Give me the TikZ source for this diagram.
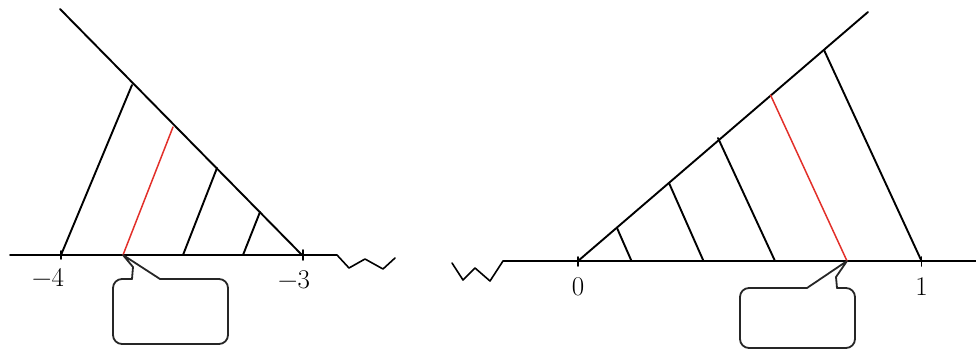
\documentclass[tikz,border=0pt]{standalone}
\usepackage{fontspec}
\usetikzlibrary{calc}
\definecolor{lnred}{RGB}{226,48,42}
\begin{document}
\begin{tikzpicture}[x=1pt,y=-1pt,line join=round,line cap=round,
  ln/.style={line width=1.9pt,black},
  axisln/.style={line width=1.6pt,black},
  redln/.style={line width=1.5pt,lnred},
  boxln/.style={line width=1.8pt,black!85},
  lbl/.style={font=\fontsize{27}{27}\selectfont\addfontfeatures{FakeBold=0.8},inner sep=0pt,anchor=base}]
\useasboundingbox (0,0) rectangle (976,350);

% ---------- left figure ----------
\coordinate (LA0) at (10,255);
\coordinate (LA1) at (337,255);
\coordinate (LH0) at (60,9);
\coordinate (Lm4) at (61,255);
\coordinate (Lm3) at (302,255);
\coordinate (LP1) at (132,85);
\coordinate (LP2) at (173,127);
\coordinate (LP3) at (217,168);
\coordinate (LP4) at (260,212);
\coordinate (LF2) at (123,255);
\coordinate (LF3) at (183,255);
\coordinate (LF4) at (243,255);

\draw[axisln] (LA0) -- (LA1) -- (349,268) -- (365,259) -- (383,269) -- (395,258);
\draw[ln] (LH0) -- (Lm3);
\draw[ln] ($(Lm4)+(0,-4)$) -- ($(Lm4)+(0,4)$);
\draw[ln] ($(Lm3)+(1,-5)$) -- ($(Lm3)+(1,5)$);
\draw[ln] (LP1) -- (Lm4);
\draw[redln] (LP2) -- (LF2);
\draw[ln] (LP3) -- (LF3);
\draw[ln] (LP4) -- (LF4);

\node[lbl] (tm4) at (48,286) {−4};
\node[lbl] (tm3) at (294,288) {−3};

% left callout
\draw[boxln,rounded corners=9pt] (132,279) -- (113,279) -- (113,344) -- (228,344) -- (228,279) -- (160,279);
\draw[boxln] (132,279) -- (133,267) -- (LF2) -- (160,279);

% ---------- right figure ----------
\coordinate (RA0) at (503,261);
\coordinate (RA1) at (976,261);
\coordinate (R0) at (578,261);
\coordinate (R1) at (921.5,261);
\coordinate (RH1) at (868,12);
\coordinate (RP1) at (617,228);
\coordinate (RP2) at (669,183);
\coordinate (RP3) at (718,138);
\coordinate (RP4) at (770.5,95);
\coordinate (RP5) at (824,50);
\coordinate (RF1) at (631.5,261);
\coordinate (RF2) at (703.5,261);
\coordinate (RF3) at (775,261);
\coordinate (RF4) at (847,261);

\draw[axisln] (452,263) -- (463,280) -- (475,268) -- (490,281) -- (RA0) -- (RA1);
\draw[ln] (R0) -- (RH1);
\draw[ln] ($(R0)+(0,-4)$) -- ($(R0)+(0,5)$);
\draw[ln] ($(R1)+(0,-4)$) -- ($(R1)+(0,5)$);
\draw[ln] (RP1) -- (RF1);
\draw[ln] (RP2) -- (RF2);
\draw[ln] (RP3) -- (RF3);
\draw[redln] (RP4) -- (RF4);
\draw[ln] (RP5) -- (R1);

\node[lbl] (t0) at (578,295) {0};
\node[lbl] (t1) at (921.5,295) {1};

% right callout
\draw[boxln,rounded corners=9pt] (807,288) -- (740,288) -- (740,348) -- (855,348) -- (855,288) -- (837,288);
\draw[boxln] (837,288) -- (836,277) -- (RF4) -- (807,288);
\end{tikzpicture}
\end{document}
